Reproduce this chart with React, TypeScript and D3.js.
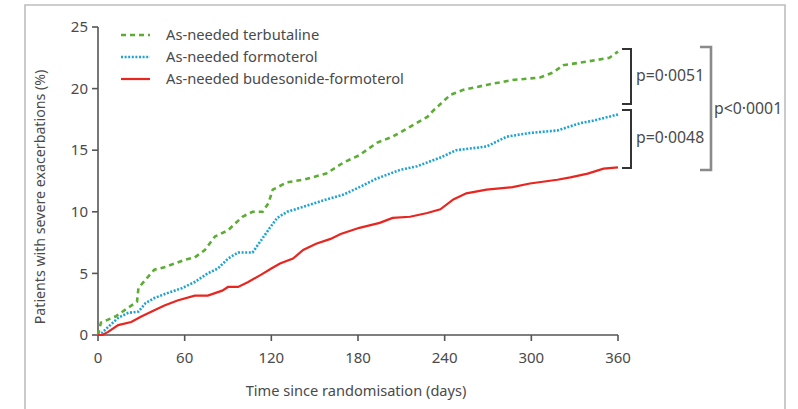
import React from "react";
import * as d3 from "d3";

const terbutalineDays = [0, 2, 12, 22, 27, 28, 33, 39, 46, 60, 67, 74, 81, 90, 100, 107, 114, 118, 121, 131, 142, 158, 170, 181, 193, 204, 216, 228, 232, 244, 253, 269, 287, 306, 315, 322, 339, 354, 360];
const terbutalineVals = [0, 1.0, 1.5, 2.3, 2.7, 3.8, 4.5, 5.3, 5.5, 6.1, 6.3, 6.9, 8.0, 8.5, 9.6, 10.0, 10.0, 10.7, 11.8, 12.4, 12.6, 13.1, 14.0, 14.6, 15.6, 16.1, 16.9, 17.7, 18.2, 19.5, 19.9, 20.3, 20.7, 20.9, 21.3, 21.9, 22.2, 22.5, 23.0];

const formoterolDays = [0, 3, 7, 14, 21, 28, 33, 39, 48, 58, 67, 76, 83, 90, 97, 107, 113, 119, 124, 131, 142, 158, 170, 181, 193, 209, 221, 237, 248, 269, 283, 299, 318, 334, 343, 360];
const formoterolVals = [0, 0.2, 0.65, 1.4, 1.8, 1.9, 2.6, 3.0, 3.4, 3.8, 4.3, 5.0, 5.4, 6.2, 6.7, 6.7, 7.7, 8.7, 9.5, 10.0, 10.4, 11.0, 11.4, 12.0, 12.7, 13.4, 13.7, 14.4, 15.0, 15.3, 16.1, 16.4, 16.6, 17.2, 17.4, 17.9];

const budesonideDays = [0, 3, 7, 14, 23, 30, 39, 46, 55, 67, 76, 86, 90, 97, 104, 113, 120, 126, 135, 142, 151, 161, 168, 181, 195, 204, 216, 228, 237, 246, 255, 269, 287, 299, 318, 327, 339, 350, 360];
const budesonideVals = [0, 0, 0.25, 0.8, 1.05, 1.5, 2.0, 2.4, 2.8, 3.2, 3.2, 3.6, 3.9, 3.9, 4.3, 4.9, 5.4, 5.8, 6.2, 6.9, 7.4, 7.8, 8.2, 8.7, 9.1, 9.5, 9.6, 9.9, 10.2, 11.0, 11.5, 11.8, 12.0, 12.3, 12.6, 12.8, 13.1, 13.5, 13.6];

const xTicks = [0, 60, 120, 180, 240, 300, 360];
const yTicks = [0, 5, 10, 15, 20, 25];

const seriesNames = ["As-needed terbutaline", "As-needed formoterol", "As-needed budesonide-formoterol"];
const seriesColors = ["#5bad33", "#1ea3d2", "#e8261f"];
const pLabels = ["p=0·0051", "p=0·0048", "p<0·0001"];

const FONT = "'Noto Sans', 'Open Sans', sans-serif";

export default function App() {
  const x = d3.scaleLinear().domain([0, 360]).range([98, 618]);
  const y = d3.scaleLinear().domain([0, 25]).range([335, 27]);
  const line = d3
    .line<[number, number]>()
    .x((d) => x(d[0]))
    .y((d) => y(d[1]))
    .curve(d3.curveLinear);

  const series = [
    { days: terbutalineDays, vals: terbutalineVals, dash: "5,4", width: 2.6 },
    { days: formoterolDays, vals: formoterolVals, dash: "2,1.6", width: 2.6 },
    { days: budesonideDays, vals: budesonideVals, dash: "none", width: 2.2 },
  ];

  const legendY = [35, 57, 79];
  const axisColor = "#555";
  const textColor = "#4a4a4a";

  return (
    <div style={{ position: "absolute", left: 0, top: 0 }}>
      <svg width={798} height={409} style={{ display: "block" }}>
        <rect x={0} y={0} width={798} height={409} fill="#fff" />
        <path d="M25,430 L25,5 L785,5 L785,430" fill="none" stroke="#bdbdbd" strokeWidth={1.6} />

        <line x1={98} x2={98} y1={y(25)} y2={y(0)} stroke={axisColor} strokeWidth={1.6} />
        {yTicks.map((t) => (
          <g key={"y" + t}>
            <line x1={92} x2={98} y1={y(t)} y2={y(t)} stroke={axisColor} strokeWidth={1.6} />
            <text x={88} y={y(t)} dy="0.35em" textAnchor="end" fontSize={15} fontFamily={FONT} fill={textColor}>
              {t}
            </text>
          </g>
        ))}
        <line x1={x(0)} x2={x(360)} y1={335} y2={335} stroke={axisColor} strokeWidth={1.6} />
        {xTicks.map((t) => (
          <g key={"x" + t}>
            <line x1={x(t)} x2={x(t)} y1={335} y2={341} stroke={axisColor} strokeWidth={1.6} />
            <text x={x(t)} y={358} dy="0.35em" textAnchor="middle" fontSize={15} fontFamily={FONT} fill={textColor}>
              {t}
            </text>
          </g>
        ))}

        <text x={356} y={391} dy="0.35em" textAnchor="middle" fontSize={14.6} fontFamily={FONT} fill={textColor}>
          Time since randomisation (days)
        </text>
        <text
          transform={`translate(40,197) rotate(-90)`}
          textAnchor="middle"
          dy="0.35em"
          fontSize={14.2}
          fontFamily={FONT}
          fill={textColor}
        >
          Patients with severe exacerbations (%)
        </text>

        {series.map((s, i) => (
          <path
            key={i}
            d={line(s.days.map((d, j) => [d, s.vals[j]] as [number, number])) || ""}
            fill="none"
            stroke={seriesColors[i]}
            strokeWidth={s.width}
            strokeDasharray={s.dash}
          />
        ))}

        {seriesNames.map((n, i) => (
          <g key={n}>
            <line
              x1={121}
              x2={150}
              y1={legendY[i]}
              y2={legendY[i]}
              stroke={seriesColors[i]}
              strokeWidth={series[i].width}
              strokeDasharray={series[i].dash}
            />
            <text x={166} y={legendY[i]} dy="0.35em" fontSize={14.7} fontFamily={FONT} fill={textColor}>
              {n}
            </text>
          </g>
        ))}

        <path d="M622,49 L631,49 L631,104 L622,104" fill="none" stroke="#333" strokeWidth={2} />
        <path d="M622,110 L631,110 L631,168 L622,168" fill="none" stroke="#333" strokeWidth={2} />
        <path d="M700,47 L711,47 L711,170 L700,170" fill="none" stroke="#8a8a8a" strokeWidth={2.6} />
        <text x={636} y={75} dy="0.35em" fontSize={15.8} fontFamily={FONT} fill={textColor}>
          {pLabels[0]}
        </text>
        <text x={636} y={137} dy="0.35em" fontSize={15.8} fontFamily={FONT} fill={textColor}>
          {pLabels[1]}
        </text>
        <text x={714} y={108} dy="0.35em" fontSize={15.8} fontFamily={FONT} fill={textColor}>
          {pLabels[2]}
        </text>
      </svg>
    </div>
  );
}
